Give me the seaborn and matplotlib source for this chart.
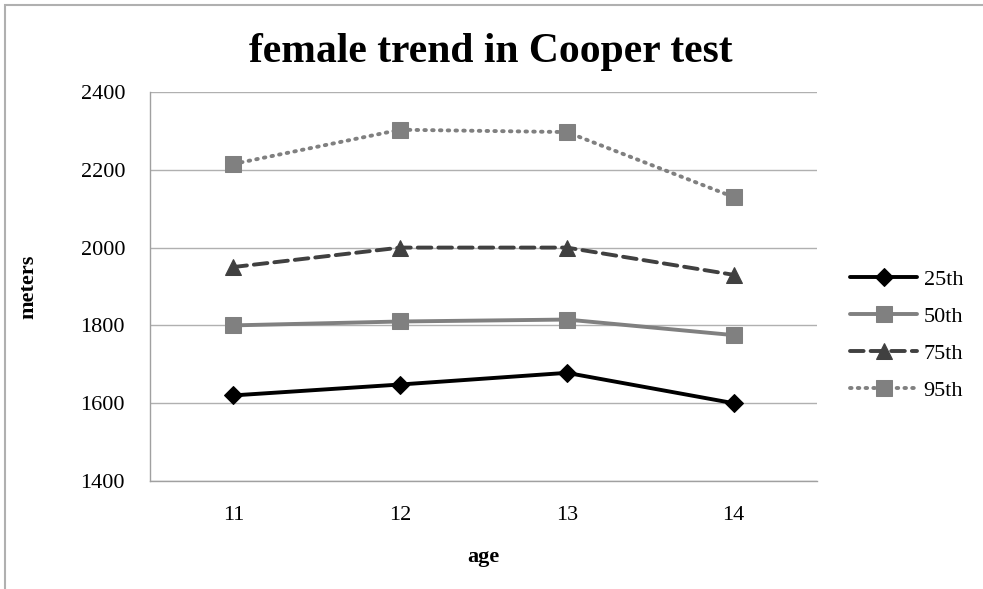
# -*- coding: utf-8 -*-
# tendencia femenina en el test de Cooper
import numpy as np
import pandas as pd
import matplotlib
matplotlib.use("Agg")
import matplotlib.pyplot as plt
import seaborn as sns

# datos
ages = ["11", "12", "13", "14"]
p25 = [1620, 1648, 1678, 1600]
p50 = [1800, 1810, 1815, 1775]
p75 = [1950, 2000, 2000, 1930]
p95 = [2215, 2303, 2297, 2130]
series = ["25th", "50th", "75th", "95th"]

data = pd.DataFrame({
    "age": np.tile(np.arange(len(ages)), 4),
    "meters": p25 + p50 + p75 + p95,
    "percentile": np.repeat(series, len(ages)),
})

sns.set_style("white")
plt.rcParams["font.family"] = ["Liberation Serif", "DejaVu Serif"]
plt.rcParams["text.color"] = "black"
plt.rcParams["xtick.color"] = "black"
plt.rcParams["ytick.color"] = "black"
plt.rcParams["axes.labelcolor"] = "black"

fig = plt.figure(figsize=(9.83, 5.89), dpi=100)
ax = fig.add_axes([0.1526, 0.1834, 0.6785, 0.6604])

# estilos por serie
estilos = {
    "25th": dict(color="#000000", ls="-", marker="D", ms=9),
    "50th": dict(color="#808080", ls="-", marker="s", ms=11),
    "75th": dict(color="#404040", ls=(0, (3.5, 1.8)), marker="^", ms=11),
    "95th": dict(color="#808080", ls=(0, (0.4, 1.6)), marker="s", ms=11),
}

for s in series:
    st = estilos[s]
    sns.lineplot(data=data[data["percentile"] == s], x="age", y="meters",
                 ax=ax, color=st["color"], linestyle=st["ls"], linewidth=2.8,
                 marker=st["marker"], markersize=st["ms"],
                 markeredgecolor=st["color"], markerfacecolor=st["color"],
                 label=s, dash_capstyle="round")

# ejes
ax.set_xlim(-0.5, 3.5)
ax.set_ylim(1400, 2400)
ax.set_yticks(np.arange(1400, 2401, 200))
ax.set_xticks(np.arange(len(ages)))
ax.set_xticklabels(ages)
ax.set_xticks(np.arange(-0.5, 3.6, 1), minor=True)
ax.tick_params(axis="x", which="major", length=0, pad=18, labelsize=16)
ax.tick_params(axis="x", which="minor", length=6, color="#a0a0a0", width=1, direction="out")
ax.tick_params(axis="y", length=6, color="#a0a0a0", width=1, direction="out", pad=12, labelsize=16)
ax.yaxis.grid(True, color="#b0b0b0", linewidth=1)
ax.xaxis.grid(False)
for sp in ["top", "right"]:
    ax.spines[sp].set_visible(False)
for sp in ["left", "bottom"]:
    ax.spines[sp].set_color("#a0a0a0")
    ax.spines[sp].set_linewidth(1)

ax.set_xlabel("age", fontsize=16, fontweight="bold", labelpad=16)
ax.set_ylabel("meters", fontsize=16, fontweight="bold", labelpad=30)
fig.text(0.499, 0.912, "female trend in Cooper test", ha="center", va="center",
         fontsize=30, fontweight="bold")

ax.legend(loc="center left", bbox_to_anchor=(1.02, 0.375), frameon=False,
          fontsize=16, handlelength=3.0, labelspacing=0.75, handletextpad=0.3)

# borde del grafico
fig.patches.append(plt.Rectangle((5 / 983, -0.1), 1.2, 1 - 5 / 589 + 0.1,
                                 transform=fig.transFigure, fill=False,
                                 edgecolor="#b0b0b0", linewidth=1.5))

fig.savefig("out.png", dpi=100)
plt.close()
